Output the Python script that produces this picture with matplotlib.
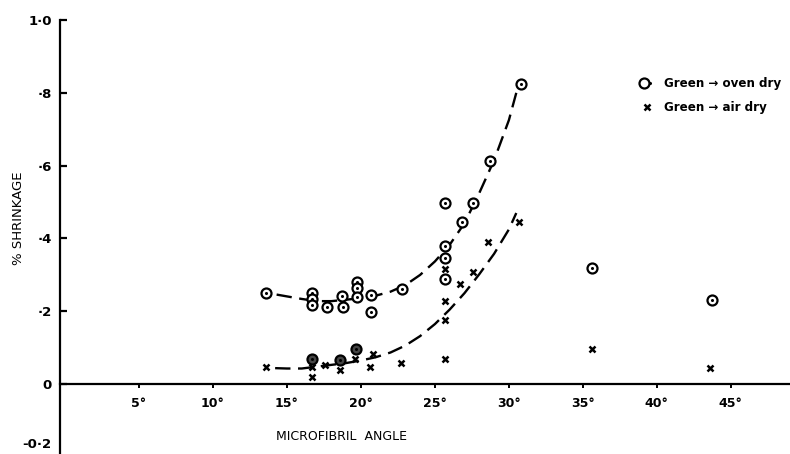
import matplotlib
matplotlib.use("Agg")
import matplotlib.pyplot as plt
import matplotlib.transforms as mtransforms
from matplotlib.legend_handler import HandlerTuple

# ---------------- data ----------------
oven_x = [13.6, 16.7, 16.7, 16.7, 17.7, 18.7, 18.8, 19.75, 19.75, 19.75, 20.7, 20.7,
          22.8, 25.7, 25.7, 25.7, 25.7, 26.8, 27.6, 28.7, 30.8, 35.6, 43.7]
oven_y = [0.251, 0.249, 0.233, 0.217, 0.211, 0.242, 0.211, 0.281, 0.263, 0.238, 0.245, 0.199,
          0.261, 0.497, 0.379, 0.346, 0.288, 0.445, 0.497, 0.613, 0.824, 0.320, 0.230]

oven_dark_x = [16.7, 18.6, 19.7]
oven_dark_y = [0.069, 0.066, 0.096]

air_x = [13.6, 16.7, 16.7, 17.6, 18.6, 19.6, 20.8, 20.6, 22.7, 25.7, 25.7, 25.7, 25.7,
         26.7, 27.6, 28.6, 30.7, 35.6, 43.6]
air_y = [0.048, 0.046, 0.020, 0.054, 0.038, 0.070, 0.084, 0.048, 0.059, 0.068, 0.316, 0.228, 0.176,
         0.275, 0.308, 0.390, 0.445, 0.096, 0.044]

oven_curve_x = [14.3, 15.0, 16.0, 17.0, 18.0, 19.0, 20.0, 21.0, 22.0, 23.0, 24.0, 25.0,
                26.0, 27.0, 28.0, 29.0, 30.0, 30.5]
oven_curve_y = [0.246, 0.241, 0.234, 0.228, 0.228, 0.232, 0.236, 0.243, 0.254, 0.272, 0.300, 0.337,
                0.383, 0.442, 0.525, 0.615, 0.725, 0.800]

air_curve_x = [14.2, 15.0, 16.0, 17.0, 18.0, 19.0, 20.0, 21.0, 22.0, 23.0, 24.0, 25.0,
               26.0, 27.0, 28.0, 29.0, 30.0, 30.5]
air_curve_y = [0.044, 0.043, 0.043, 0.048, 0.053, 0.058, 0.065, 0.074, 0.087, 0.106, 0.132, 0.165,
               0.205, 0.250, 0.302, 0.358, 0.425, 0.470]

x_ticks = [5, 10, 15, 20, 25, 30, 35, 40, 45]
x_tick_labels = ["5°", "10°", "15°", "20°", "25°", "30°", "35°", "40°", "45°"]
y_ticks = [-0.2, 0.0, 0.2, 0.4, 0.6, 0.8, 1.0]
y_tick_labels = ["-0·2", "0", "·2", "·4", "·6", "·8", "1·0"]

legend_labels = ["Green → oven dry", "Green → air dry"]
x_label = "MICROFIBRIL  ANGLE"
y_label = "% SHRINKAGE"

# ---------------- figure ----------------
plt.rcParams['font.family'] = ['DejaVu Sans']
W, H = 790, 454
fig = plt.figure(figsize=(W / 100, H / 100), dpi=100)
ax = fig.add_axes([60 / W, (H - 457) / H, 730 / W, 437 / H])
ax.set_xlim(-0.34, 49.0)
ax.set_ylim(-0.2, 1.0)

ax.spines['top'].set_visible(False)
ax.spines['right'].set_visible(False)
ax.spines['bottom'].set_position(('data', 0))
for s in ('left', 'bottom'):
    ax.spines[s].set_linewidth(1.6)
    ax.spines[s].set_color('black')

ax.set_xticks(x_ticks)
ax.set_xticklabels(x_tick_labels, fontsize=9, fontweight='semibold')
ax.set_yticks(y_ticks)
ax.set_yticklabels(y_tick_labels, fontsize=9.5, fontweight='bold')
ax.tick_params(axis='y', direction='in', length=5, width=1.6, pad=6)
ax.tick_params(axis='x', direction='out', length=3, width=1.4, pad=6)

# lift the partly-clipped -0.2 label so it stays readable
lab = ax.get_yticklabels()[0]
lab.set_transform(lab.get_transform() + mtransforms.ScaledTranslation(0, 10 / 72, fig.dpi_scale_trans))

dash = (6.5, 3.2)
ax.plot(oven_curve_x, oven_curve_y, color='black', lw=1.7, dashes=dash, zorder=2)
ax.plot(air_curve_x, air_curve_y, color='black', lw=1.7, dashes=dash, zorder=2)

c1, = ax.plot(oven_x, oven_y, ls='none', marker='o', ms=7.2, mfc='white', mec='black', mew=1.6, zorder=3)
c2, = ax.plot(oven_x, oven_y, ls='none', marker='o', ms=2.2, mfc='black', mec='black', mew=0, zorder=4)
ax.plot(oven_dark_x, oven_dark_y, ls='none', marker='o', ms=7.2, mfc='#444444', mec='black', mew=1.6, zorder=3)
ax.plot(oven_dark_x, oven_dark_y, ls='none', marker='o', ms=2.2, mfc='black', mec='black', mew=0, zorder=4)
xm, = ax.plot(air_x, air_y, ls='none', marker='x', ms=5, mec='black', mew=1.8, zorder=3)

ax.legend([(c1, c2), xm], legend_labels, handler_map={tuple: HandlerTuple(ndivide=None)},
          loc='upper left', bbox_to_anchor=(641 / W, 1 - 77 / H), bbox_transform=fig.transFigure,
          frameon=False, handlelength=1.0, handletextpad=0.9, labelspacing=0.9,
          borderpad=0, borderaxespad=0, prop={'size': 8.6, 'weight': 'semibold'})

fig.text(341 / W, 1 - 437 / H, x_label, ha='center', va='center', fontsize=9)
fig.text(19 / W, 1 - 218 / H, y_label, ha='center', va='center', rotation=90, fontsize=9.5)

fig.savefig("out.png", dpi=100)
